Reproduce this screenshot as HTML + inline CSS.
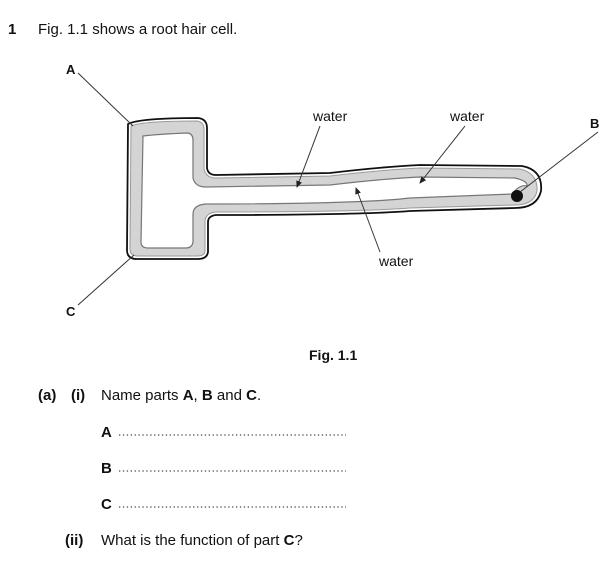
<!DOCTYPE html>
<html><head><meta charset="utf-8"><style>
html,body{margin:0;padding:0;background:#fff;}
body{width:616px;height:566px;position:relative;overflow:hidden;font-family:"Liberation Sans",Arial,sans-serif;color:#111;}
</style></head><body>
<svg width="616" height="566" viewBox="0 0 616 566" xmlns="http://www.w3.org/2000/svg" style="position:absolute;left:0;top:0">
<defs><marker id="ah" markerWidth="8" markerHeight="8" refX="6" refY="3" orient="auto" markerUnits="userSpaceOnUse"><path d="M0,0 L7,3 L0,6 Z" fill="#222"/></marker></defs>
<g font-family="Liberation Sans, Arial, sans-serif" font-size="15" fill="#111">
<text x="8" y="34" font-weight="bold">1</text>
<text x="38" y="34">Fig. 1.1 shows a root hair cell.</text>
</g>
<!-- cell -->
<path d="M128,124 Q140,118 198,118 Q207,119 207,128 L207,168 Q208,175 216,175 L330,173 Q380,167 420,165 L522,166 Q543,170 541,191 Q537,208 515,208 L410,211 Q360,215 216,215 Q208,216 208,222 L208,252 Q207,259 198,259 L137,259 Q127,259 127,250 Z" fill="#fff" stroke="#111" stroke-width="1.8"/>
<path d="M131,126 Q142,121 197,121 Q204,122 204,129 L204,169 Q206,178 216,178 L330,176 Q380,170 420,168 L520,169 Q538,173 537,191 Q534,205 515,205 L410,208 Q360,212 216,212 Q205,213 205,222 L205,251 Q205,256 197,256 L138,256 Q130,256 130,249 Z" fill="#d4d4d4" stroke="#9a9a9a" stroke-width="1"/>
<path d="M143,136 Q160,134 188,133 Q193,134 193,140 L193,178 Q195,187 206,187 L330,185 Q380,179 420,177 L515,178 Q528,181 527,186 Q520,184 512,194 L410,198 Q360,204 206,204 Q193,205 193,214 L193,242 Q192,248 186,248 L148,248 Q141,248 141,242 Z" fill="#fff" stroke="#777" stroke-width="1.2"/>
<circle cx="517" cy="196" r="6" fill="#111"/>
<!-- label lines -->
<g stroke="#333" stroke-width="1" fill="none">
<line x1="78" y1="73" x2="133" y2="126"/>
<line x1="78" y1="305" x2="134" y2="255"/>
<line x1="598" y1="132" x2="520" y2="192"/>
<line x1="320" y1="126" x2="297" y2="187" marker-end="url(#ah)"/>
<line x1="465" y1="126" x2="420" y2="183" marker-end="url(#ah)"/>
<line x1="380" y1="252" x2="356" y2="188" marker-end="url(#ah)"/>
</g>
<g font-family="Liberation Sans, Arial, sans-serif" font-size="13" fill="#111">
<text x="66" y="74" font-weight="bold">A</text>
<text x="590" y="128" font-weight="bold">B</text>
<text x="66" y="316" font-weight="bold">C</text>
<text x="313" y="121" font-size="14">water</text>
<text x="450" y="121" font-size="14">water</text>
<text x="379" y="266" font-size="14">water</text>
<text x="309" y="360" font-weight="bold" font-size="14">Fig. 1.1</text>
</g>
<g font-family="Liberation Sans, Arial, sans-serif" font-size="15" fill="#111">
<text x="38" y="400" font-weight="bold">(a)</text>
<text x="71" y="400" font-weight="bold">(i)</text>
<text x="101" y="400">Name parts <tspan font-weight="bold">A</tspan>, <tspan font-weight="bold">B</tspan> and <tspan font-weight="bold">C</tspan>.</text>
<text x="101" y="437" font-weight="bold">A</text>
<text x="101" y="473" font-weight="bold">B</text>
<text x="101" y="509" font-weight="bold">C</text>
<text x="65" y="545" font-weight="bold">(ii)</text>
<text x="101" y="545">What is the function of part <tspan font-weight="bold">C</tspan>?</text>
</g>
<g stroke="#444" stroke-width="1.3" stroke-dasharray="1.3,2.6">
<line x1="119" y1="435" x2="346" y2="435"/>
<line x1="119" y1="471" x2="346" y2="471"/>
<line x1="119" y1="507" x2="346" y2="507"/>
</g>
</svg>
</body></html>
